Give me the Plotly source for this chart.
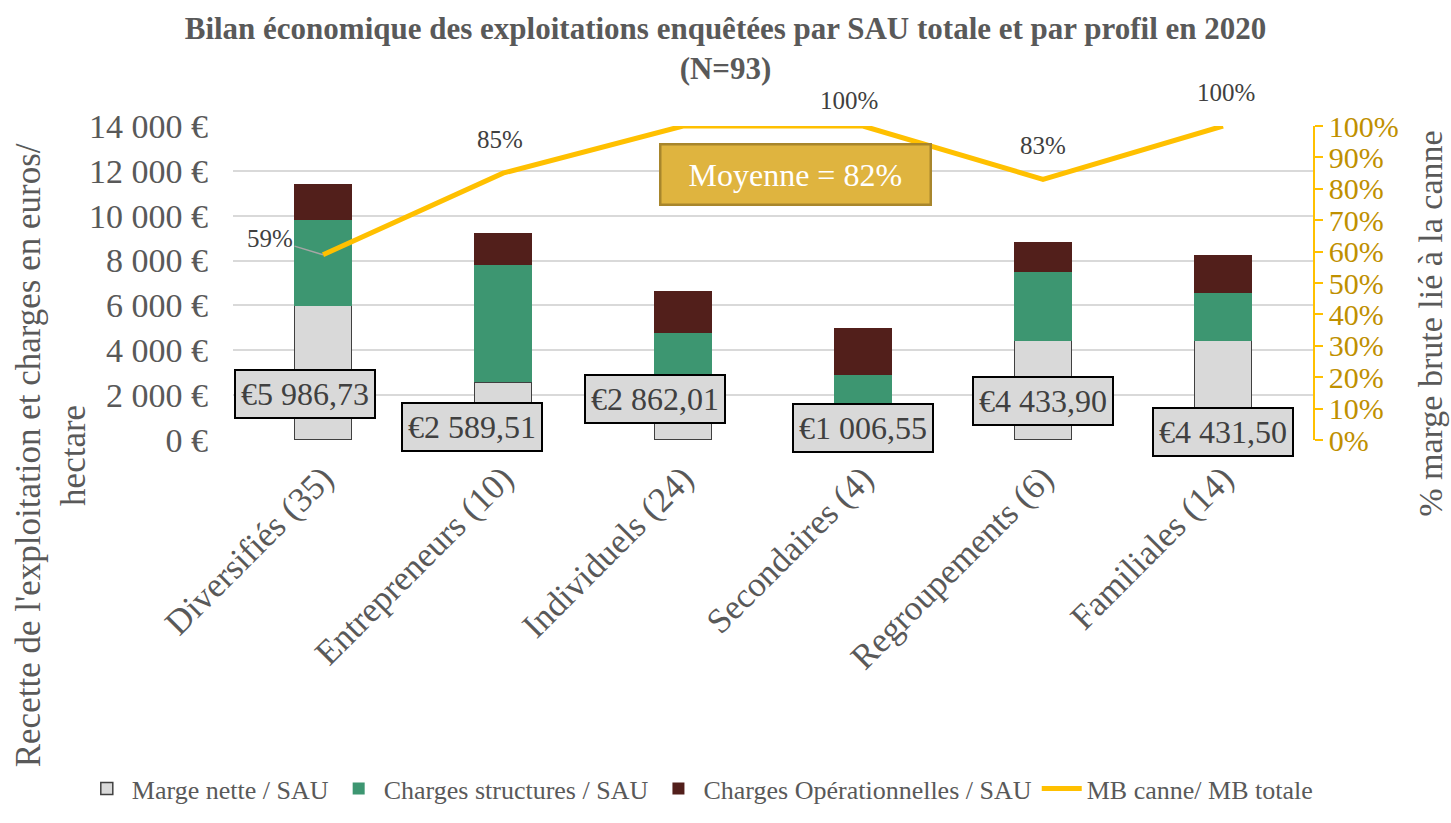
import plotly.graph_objects as go

categories = ["Diversifiés (35)", "Entrepreneurs (10)", "Individuels (24)",
              "Secondaires (4)", "Regroupements (6)", "Familiales (14)"]
marge_nette = [5986.73, 2589.51, 2862.01, 1006.55, 4433.90, 4431.50]
charges_structures = [3826, 5222, 1904, 1912, 3066, 2124]
charges_operationnelles = [1594, 1439, 1874, 2059, 1326, 1677]
mb_canne = [0.59, 0.85, 1.00, 1.00, 0.83, 1.00]
show_line_label = [True, True, False, True, True, True]
moyenne = 0.82

# label placement offsets (pixels) relative to the data point
mn_label_xshift = [-18, -31, -28, 0, 0, 0]
mn_label_yshift = [-88, -45, -23, -11, -60, -91]
line_label_xshift = [-53, -3, 0, -14, 0, 3]
line_label_yshift = [16, 34, 26, 26, 34, 34]

FONT = "Liberation Serif"
GREY_TXT = "#595959"


def fmt_eur(v):
    s = f"{v:,.2f}".replace(",", " ").replace(".", ",")
    return "€" + s


fig = go.Figure()
fig.add_trace(go.Bar(x=categories, y=marge_nette, name="Marge nette / SAU",
                     marker=dict(color="#D9D9D9", line=dict(color="#404040", width=1.5))))
fig.add_trace(go.Bar(x=categories, y=charges_structures, name="Charges structures / SAU",
                     marker=dict(color="#3D9671", line=dict(width=0))))
fig.add_trace(go.Bar(x=categories, y=charges_operationnelles, name="Charges Opérationnelles / SAU",
                     marker=dict(color="#521F1B", line=dict(width=0))))
fig.add_trace(go.Scatter(x=categories, y=mb_canne, name="MB canne/ MB totale", yaxis="y2",
                         mode="lines", line=dict(color="#FFC000", width=5)))

annotations = []
for i, c in enumerate(categories):
    annotations.append(dict(
        x=c, y=marge_nette[i], xref="x", yref="y", text=fmt_eur(marge_nette[i]),
        showarrow=False, xshift=mn_label_xshift[i], yshift=mn_label_yshift[i],
        xanchor="center", yanchor="middle",
        font=dict(family=FONT, size=32, color="#404040"),
        bgcolor="#D9D9D9", bordercolor="#000000", borderwidth=2, borderpad=5))
for i, c in enumerate(categories):
    if not show_line_label[i]:
        continue
    if i == 0:
        annotations.append(dict(
            x=c, y=mb_canne[i], xref="x", yref="y2", text=f"{mb_canne[i]:.0%}",
            showarrow=True, arrowhead=0, arrowcolor="#A6A6A6", arrowwidth=1.5,
            ax=line_label_xshift[i], ay=-line_label_yshift[i],
            font=dict(family=FONT, size=25, color="#404040")))
    else:
        annotations.append(dict(
            x=c, y=mb_canne[i], xref="x", yref="y2", text=f"{mb_canne[i]:.0%}",
            showarrow=False, xshift=line_label_xshift[i], yshift=line_label_yshift[i],
            xanchor="center", yanchor="middle",
            font=dict(family=FONT, size=25, color="#404040")))

annotations.append(dict(
    x=0.521, y=0.846, xref="paper", yref="paper", xanchor="center", yanchor="middle",
    text=f"&nbsp;&nbsp;Moyenne = {moyenne:.0%}&nbsp;&nbsp;",
    showarrow=False, font=dict(family=FONT, size=32, color="#FFFFFF"),
    bgcolor="#DFB43F", bordercolor="#A8862C", borderwidth=2.5, borderpad=11))
annotations.append(dict(
    x=-0.168, y=-0.05, xref="paper", yref="paper",
    text="Recette de l'exploitation et charges en euros/<br>hectare",
    textangle=-90, showarrow=False, xanchor="center", yanchor="middle",
    font=dict(family=FONT, size=35, color=GREY_TXT)))
annotations.append(dict(
    x=1.108, y=0.369, xref="paper", yref="paper",
    text="% marge brute lié à la canne",
    textangle=-90, showarrow=False, xanchor="center", yanchor="middle",
    font=dict(family=FONT, size=34, color=GREY_TXT)))

fig.update_layout(
    width=1451, height=823,
    margin=dict(l=233, r=138, t=126, b=366),
    paper_bgcolor="white", plot_bgcolor="white",
    separators=", ",
    barmode="stack", bargap=0.683,
    title=dict(text="<b>Bilan économique des exploitations enquêtées par SAU totale et par profil en 2020<br>(N=93)</b>",
               x=0.5, xanchor="center", y=0.953, yanchor="top",
               font=dict(family=FONT, size=31, color=GREY_TXT)),
    font=dict(family=FONT, color=GREY_TXT),
    xaxis=dict(tickangle=-45, tickfont=dict(family=FONT, size=35, color=GREY_TXT),
               showline=False, ticks="", automargin=False, ticklabelstandoff=10),
    yaxis=dict(range=[0, 14000], dtick=2000, tickformat=",d", ticksuffix=" €",
               tickfont=dict(family=FONT, size=34, color=GREY_TXT),
               showgrid=True, gridcolor="#D9D9D9", gridwidth=1.5,
               zeroline=False, showline=False, ticks="", automargin=False,
               ticklabelstandoff=24),
    yaxis2=dict(range=[0, 1], dtick=0.1, tickformat=".0%", overlaying="y", side="right",
                tickfont=dict(family=FONT, size=30, color="#BF9000"),
                showgrid=False, zeroline=False, showline=True, linecolor="#FFC000", linewidth=1.5,
                ticks="outside", tickcolor="#FFC000", ticklen=8, tickwidth=1.5,
                automargin=False),
    legend=dict(orientation="h", x=-0.14, xanchor="left",
                y=-1.11, yanchor="middle",
                font=dict(family=FONT, size=26, color=GREY_TXT), traceorder="normal",
                itemwidth=40),
    annotations=annotations,
)

fig.write_html("out.html", config={"displayModeBar": False},
               post_script="document.body.style.margin='0';")
